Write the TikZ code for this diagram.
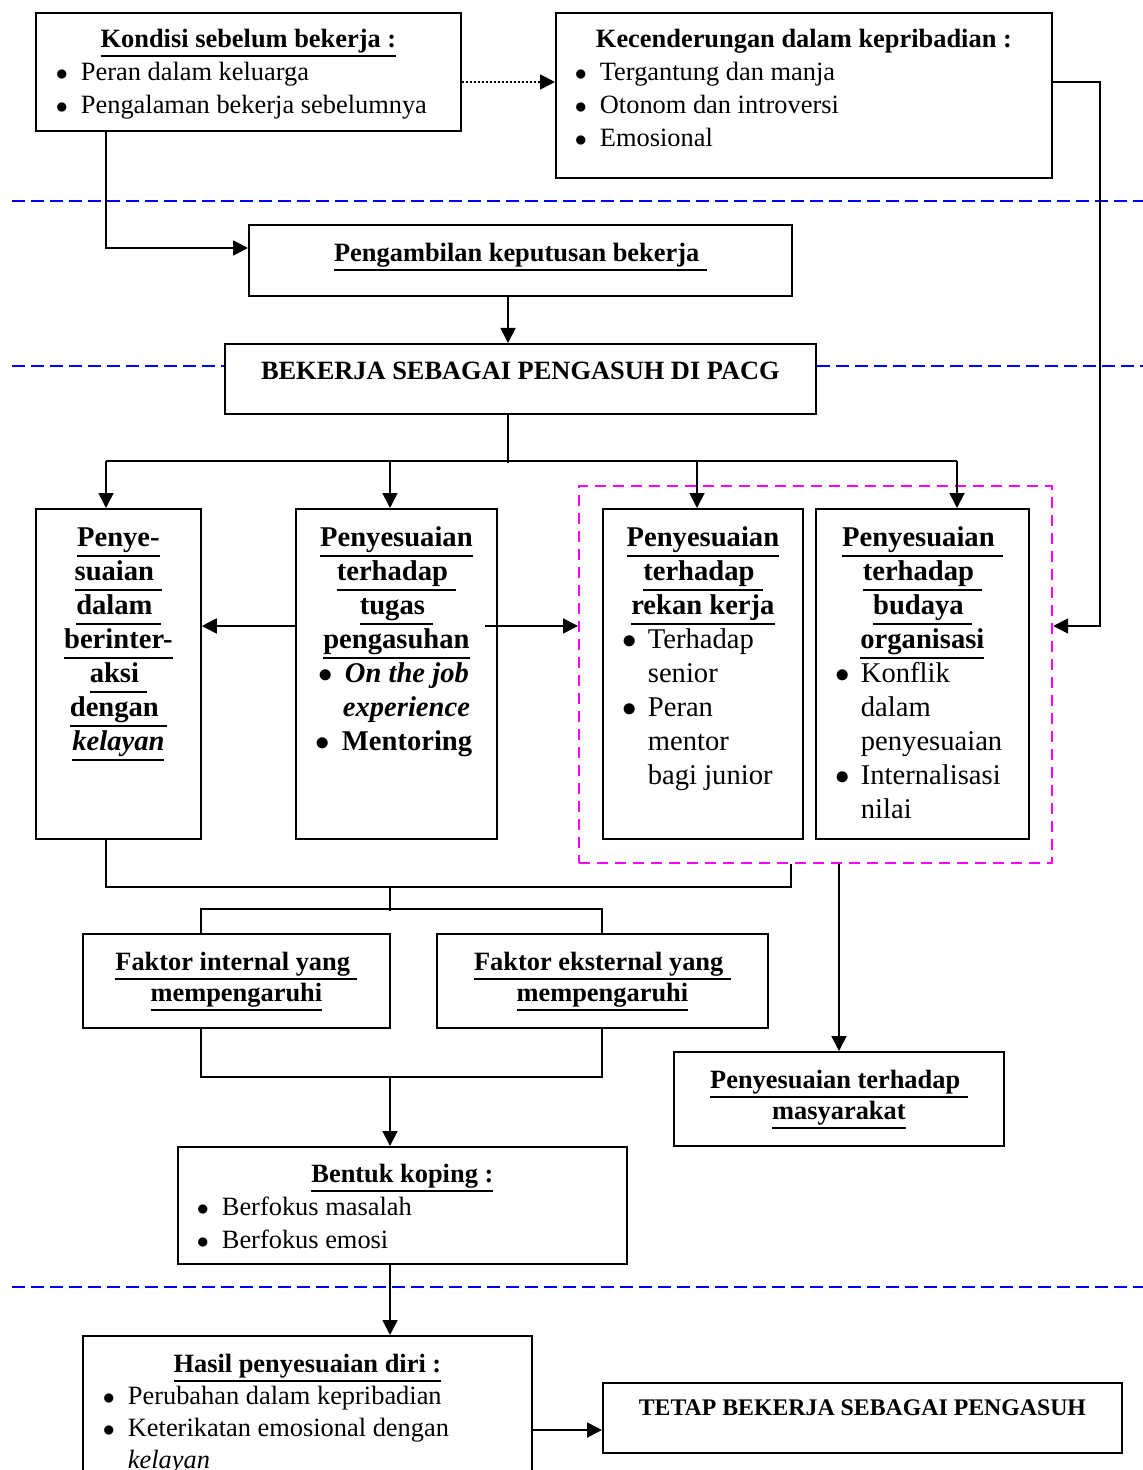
\documentclass[tikz,border=0pt]{standalone}
\usepackage{fontspec}
\setmainfont{Liberation Serif}
\usetikzlibrary{arrows.meta,calc}
\definecolor{mag}{RGB}{255,0,255}
\definecolor{sepblue}{RGB}{0,0,255}
\newcommand\fs{\fontsize{13.2}{16.5}\selectfont}
\newcommand\fc{\fontsize{14.3}{17}\selectfont}
\newcommand\ff{\fontsize{13.2}{15.5}\selectfont}
\newcommand\fh{\fontsize{13.2}{16}\selectfont}
\newcommand\ft{\fontsize{11.9}{16}\selectfont}
% box content: width px, height px, first baseline px, content
\newcommand\bx[4]{\parbox[c][\dimexpr #2pt/2\relax][t]{\dimexpr #1pt/2\relax}{\centering\rule{0pt}{\dimexpr #3pt/2\relax}#4}}
\newcommand\dotb{$\bullet$}
\newcommand\bulp[3]{\makebox[\linewidth][l]{\hspace{\dimexpr #1pt/2\relax}\makebox[\dimexpr (#2pt-#1pt)/2\relax][l]{\dotb}#3}}
\newcommand\contp[2]{\makebox[\linewidth][l]{\hspace{\dimexpr #1pt/2\relax}#2}}
\newcommand\bul[1]{\bulp{20}{45}{#1}}
\newcommand\cont[1]{\contp{45}{#1}}
\newsavebox\myulbox
\newcommand\hul[1]{\leavevmode\sbox\myulbox{#1}\rlap{\usebox\myulbox}\rule[-0.36em]{\wd\myulbox}{1.1pt}}
\newcommand\huls[1]{\hul{#1\hspace{0.28em}}}
\begin{document}
\begin{tikzpicture}[x=0.5pt,y=-0.5pt,
  box/.style={draw, line width=0.9pt, inner sep=0pt, anchor=north west, font=\fs},
  ln/.style={line width=0.9pt},
  arr/.style={line width=0.9pt, -{Triangle[length=7.5pt,width=7.5pt]}},
  sep/.style={draw=sepblue, line width=1.2pt, dash pattern=on 6.5pt off 3pt},
  grp/.style={draw=mag, line width=1.1pt, dash pattern=on 5.5pt off 3.5pt, inner sep=0pt, anchor=north west}]
\path[use as bounding box] (0,0) rectangle (1143,1470);
\clip (0,0) rectangle (1143,1470);

% boxes
\node[box] (k) at (35,12) {\bx{425}{118}{35}{\textbf{\hul{Kondisi sebelum bekerja :}}\\ \bul{Peran dalam keluarga}\\ \bul{Pengalaman bekerja sebelumnya}}};
\node[box] (kd) at (555,12) {\bx{496}{165}{35}{\textbf{Kecenderungan dalam kepribadian :}\\ \bulp{19}{44}{Tergantung dan manja}\\ \bulp{19}{44}{Otonom dan introversi}\\ \bulp{19}{44}{Emosional}}};
\node[box] (pk) at (248,224) {\bx{543}{71}{37}{\textbf{\huls{Pengambilan keputusan bekerja}}}};
\node[box] (bk) at (224,343) {\bx{591}{70}{36}{\textbf{BEKERJA SEBAGAI PENGASUH DI PACG}}};

\node[box, font=\fc] (c1) at (35,508) {\bx{165}{330}{38}{\bfseries\hul{Penye-}\\ \huls{suaian}\\ \huls{dalam}\\ \hul{berinter-}\\ \huls{aksi}\\ \huls{dengan}\\ \hul{\textit{kelayan}}}};
\node[box, font=\fc] (c2) at (295,508) {\bx{201}{330}{38}{\bfseries\hul{Penyesuaian}\\ \huls{terhadap}\\ \huls{tugas}\\ \hul{pengasuhan}\\ \bulp{23}{49}{\textit{On the job}}\\ \contp{47}{\textit{experience}}\\ \bulp{20}{46}{Mentoring}}};
\node[box, font=\fc] (c3) at (602,508) {\bx{200}{330}{38}{\textbf{\hul{Penyesuaian}}\\ \textbf{\huls{terhadap}}\\ \textbf{\hul{rekan kerja}}\\ \bul{Terhadap}\\ \cont{senior}\\ \bul{Peran}\\ \cont{mentor}\\ \cont{bagi junior}}};
\node[box, font=\fc] (c4) at (815,508) {\bx{213}{330}{38}{\textbf{\huls{Penyesuaian}}\\ \textbf{\huls{terhadap}}\\ \textbf{\huls{budaya}}\\ \textbf{\hul{organisasi}}\\ \bul{Konflik}\\ \cont{dalam}\\ \cont{penyesuaian}\\ \bul{Internalisasi}\\ \cont{nilai}}};
\node[grp, minimum width=236.5pt, minimum height=188.5pt] (mg) at (578,485) {};

\node[box, font=\ff] (fi) at (82,933) {\bx{307}{94}{37}{\bfseries\huls{Faktor internal yang}\\ \hul{mempengaruhi}}};
\node[box, font=\ff] (fe) at (436,933) {\bx{331}{94}{37}{\bfseries\huls{Faktor eksternal yang}\\ \hul{mempengaruhi}}};
\node[box, font=\ff] (pm) at (673,1051) {\bx{330}{94}{37}{\bfseries\huls{Penyesuaian terhadap}\\ \hul{masyarakat}}};
\node[box] (bko) at (177,1146) {\bx{449}{117}{36}{\textbf{\hul{Bentuk koping :}}\\ \bulp{19}{44}{Berfokus masalah}\\ \bulp{19}{44}{Berfokus emosi}}};
\node[box, font=\fh] (ha) at (82,1335) {\bx{449}{170}{37}{\textbf{\hul{Hasil penyesuaian diri :}}\\ \bul{Perubahan dalam kepribadian}\\ \bul{Keterikatan emosional dengan}\\ \cont{\textit{kelayan}}}};
\node[box, font=\ft] (tt) at (602,1382) {\bx{519}{70}{33}{\textbf{TETAP BEKERJA SEBAGAI PENGASUH}}};

% separators
\draw[sep] (12,201) -- (1143,201);
\draw[sep] (12,366) -- ($(bk.north west)+(0,23)$);
\draw[sep] ($(bk.north east)+(0,23)$) -- (1143,366);
\draw[sep] (12,1287) -- (1143,1287);

% connectors
\draw[arr, dash pattern=on 1pt off 1pt] ($(k.north east)+(0,70)$) -- ($(kd.north west)+(0,70)$);
\draw[arr] ($(k.south west)+(71,0)$) |- ($(pk.north west)+(0,24)$);
\draw[arr] ($(pk.south west)+(260,0)$) -- ($(bk.north west)+(284,0)$);
\draw[ln] ($(bk.south west)+(284,0)$) -- ++(0,48);
\draw[ln] ($(c1.north west)+(71,-47)$) -- ($(c4.north west)+(142,-47)$);
\draw[arr] ($(c1.north west)+(71,-47)$) -- ($(c1.north west)+(71,0)$);
\draw[arr] ($(c2.north west)+(95,-47)$) -- ($(c2.north west)+(95,0)$);
\draw[arr] ($(c3.north west)+(95,-47)$) -- ($(c3.north west)+(95,0)$);
\draw[arr] ($(c4.north west)+(142,-47)$) -- ($(c4.north west)+(142,0)$);
\draw[arr] ($(c2.north west)+(0,118)$) -- ($(c1.north east)+(0,118)$);
\draw[arr] ($(c2.north east)+(-13,118)$) -- ($(mg.north west)+(0,141)$);
\draw[arr] ($(kd.north east)+(0,70)$) -- ++(47,0) |- ($(mg.north east)+(0,141)$);
\draw[ln] ($(c1.south west)+(71,0)$) -- ++(0,47) -| ($(mg.south west)+(213,0)$);
\draw[ln] ($(c2.south west)+(95,47)$) -- ++(0,24);
\draw[ln] ($(fi.north west)+(119,0)$) -- ++(0,-24) -| ($(fe.north west)+(166,0)$);
\draw[ln] ($(fi.south west)+(119,0)$) -- ++(0,48) -| ($(fe.south west)+(166,0)$);
\draw[arr] ($(fi.south west)+(308,48)$) -- ($(bko.north west)+(213,0)$);
\draw[arr] ($(mg.south west)+(261,0)$) -- ($(pm.north west)+(166,0)$);
\draw[arr] ($(bko.south west)+(213,0)$) -- ($(ha.north west)+(308,0)$);
\draw[arr] ($(ha.north east)+(0,95)$) -- ($(tt.north west)+(0,48)$);
\end{tikzpicture}
\end{document}
